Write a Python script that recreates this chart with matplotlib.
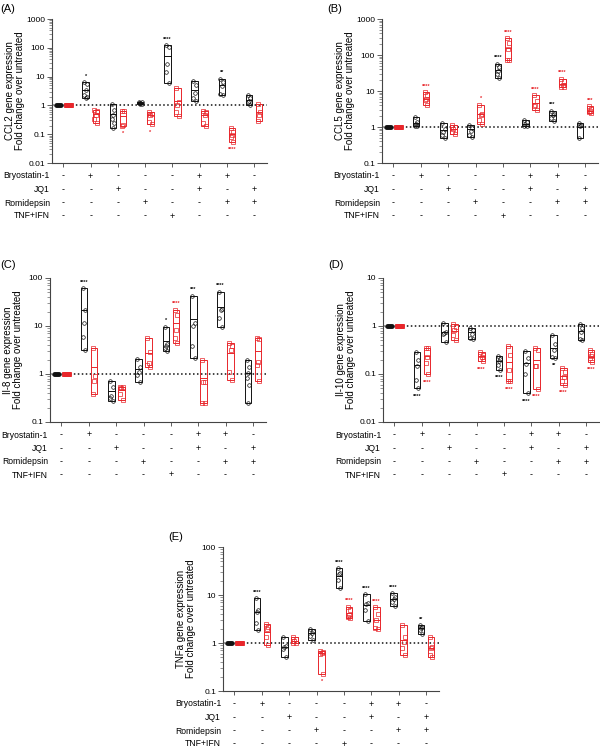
import matplotlib
matplotlib.use("Agg")
import matplotlib.pyplot as plt
from matplotlib.patches import Rectangle
from matplotlib.ticker import FixedLocator, FuncFormatter, LogLocator

plt.rcParams["font.family"] = ["Liberation Sans", "DejaVu Sans"]

W, H = 600, 747
BLACK = "#111111"
RED = "#e8262b"

# ── treatment table ───────────────────────────────────────────────────────────
ROWS = ["Bryostatin-1", "JQ1", "Romidepsin", "TNF+IFN"]
TABLE = [
    ["-", "+", "-", "-", "-", "+", "+", "-"],
    ["-", "-", "+", "-", "-", "+", "-", "+"],
    ["-", "-", "-", "+", "-", "-", "+", "+"],
    ["-", "-", "-", "-", "+", "-", "-", "-"],
]
UNTREATED = [1, 1, 1, 1, 1, 1]

# ── (A) CCL2 ──────────────────────────────────────────────────────────────────
CCL2_BLACK = [UNTREATED, [6.5, 5.5, 3.5, 2.3, 2.0, 1.8], [1.08, 0.69, 0.46, 0.33, 0.24, 0.17],
              [1.35, 1.3, 1.2, 1.2, 1.15, 1.1], [125, 105, 27, 15, 6], [7, 5.2, 2.8, 1.8, 1.4],
              [8.5, 6.6, 4.7, 2.4, 2.3], [2.3, 1.85, 1.4, 1.27, 1.0]]
CCL2_RED = [UNTREATED, [0.72, 0.62, 0.48, 0.33, 0.24], [0.65, 0.62, 0.21, 0.2],
            [0.57, 0.5, 0.46, 0.27, 0.22], [4.1, 1.3, 1.0, 0.6, 0.44], [0.64, 0.58, 0.45, 0.25, 0.19],
            [0.16, 0.12, 0.094, 0.08, 0.055], [1.08, 0.6, 0.46, 0.29]]
CCL2_BLACK_MEAN = [1, 3.3, 0.5, 1.2, 54, 3.4, 4.95, 1.53]
CCL2_RED_MEAN = [1, 0.51, 0.43, 0.46, 1.45, 0.47, 0.098, 0.57]
CCL2_BLACK_SIG = ["", "*", "", "", "****", "", "**", ""]
CCL2_RED_SIG = ["", "", "*", "*", "", "", "****", ""]

# ── (B) CCL5 ──────────────────────────────────────────────────────────────────
CCL5_BLACK = [UNTREATED, [1.9, 1.4, 1.25, 1.1, 1.05], [1.3, 0.9, 0.73, 0.61, 0.5],
              [1.16, 0.94, 0.76, 0.59, 0.52], [57, 46, 35, 30, 23], [1.56, 1.38, 1.24, 1.1, 1.06],
              [2.8, 2.35, 2.1, 1.8, 1.44], [1.3, 1.16, 1.07, 0.5]]
CCL5_RED = [UNTREATED, [9.4, 7.6, 6.1, 5.8, 4.2], [1.16, 1.0, 0.86, 0.73, 0.65],
            [4.2, 2.3, 2.1, 1.6, 1.2], [297, 220, 150, 74, 71], [7.6, 5.2, 4.2, 3.8, 2.9],
            [22, 18.5, 14.3, 13.1, 12.6], [3.8, 3.1, 2.7, 2.6, 2.5]]
CCL5_BLACK_MEAN = [1, 1.3, 0.81, 0.86, 37.5, 1.24, 2.1, 1.0]
CCL5_RED_MEAN = [1, 6.1, 0.9, 2.3, 156, 4.7, 16, 2.8]
CCL5_BLACK_SIG = ["", "", "", "", "****", "", "***", ""]
CCL5_RED_SIG = ["", "****", "", "*", "****", "****", "****", "***"]

# ── (C) Il-8 ──────────────────────────────────────────────────────────────────
IL8_BLACK = [UNTREATED, [61, 21.5, 11.3, 6, 3.2], [0.73, 0.54, 0.35, 0.31, 0.27],
             [2.1, 1.42, 1.12, 0.95, 0.69], [9.7, 4.2, 3.8, 3.4, 3.0], [43, 11.4, 10.0, 3.8, 2.2],
             [52, 23, 22, 14.4, 9.7], [2.0, 1.42, 1.03, 0.81, 0.59, 0.245]]
IL8_RED = [UNTREATED, [3.5, 0.93, 0.7, 0.38], [0.53, 0.53, 0.52, 0.38, 0.29],
           [5.5, 2.9, 1.67, 1.54, 1.42], [22, 17, 8.3, 5.5, 4.5], [2.0, 0.69, 0.69, 0.25, 0.25],
           [4.5, 3.8, 3.2, 1.1, 0.75], [5.7, 5.35, 1.8, 1.54, 0.72]]
IL8_BLACK_MEAN = [1, 21.5, 0.45, 1.29, 4.87, 13.8, 24.5, 1.03]
IL8_RED_MEAN = [1, 1.42, 0.46, 2.74, 11.4, 0.81, 2.7, 3.0]
IL8_BLACK_SIG = ["", "****", "", "", "*", "***", "****", ""]
IL8_RED_SIG = ["", "", "", "", "****", "", "", ""]

# ── (D) Il-10 ─────────────────────────────────────────────────────────────────
IL10_BLACK = [UNTREATED, [0.29, 0.2, 0.15, 0.076, 0.051], [1.17, 0.75, 0.73, 0.69, 0.46],
              [0.92, 0.81, 0.69, 0.56, 0.54], [0.233, 0.21, 0.184, 0.152, 0.123],
              [0.3, 0.22, 0.16, 0.098, 0.04], [0.64, 0.415, 0.31, 0.227, 0.22],
              [1.08, 0.92, 0.75, 0.54, 0.52]]
IL10_RED = [UNTREATED, [0.354, 0.354, 0.23, 0.17, 0.1], [1.08, 0.95, 0.81, 0.64, 0.5],
            [0.29, 0.245, 0.227, 0.21, 0.187], [0.377, 0.245, 0.123, 0.07, 0.07],
            [0.35, 0.32, 0.15, 0.145, 0.049], [0.136, 0.11, 0.087, 0.071, 0.06],
            [0.31, 0.257, 0.233, 0.22, 0.18]]
IL10_BLACK_MEAN = [1, 0.152, 0.75, 0.75, 0.19, 0.17, 0.354, 0.79]
IL10_RED_MEAN = [1, 0.233, 0.77, 0.233, 0.178, 0.2, 0.089, 0.226]
IL10_BLACK_SIG = ["", "****", "", "", "****", "****", "**", ""]
IL10_RED_SIG = ["", "****", "", "****", "****", "****", "****", "****"]

# ── (E) TNFa ──────────────────────────────────────────────────────────────────
TNFA_BLACK = [UNTREATED, [8.5, 4.9, 4.5, 2.57, 1.87], [1.35, 0.87, 0.81, 0.74, 0.5],
              [2.0, 1.8, 1.6, 1.4, 1.15], [36.5, 29, 27, 21, 14.2], [10.5, 6.7, 6.5, 4.9, 2.87],
              [10.8, 9.2, 8.1, 7.0, 5.9], [2.37, 2.12, 2.02, 1.87, 1.54]]
TNFA_RED = [UNTREATED, [2.5, 2.2, 1.93, 1.35, 0.91], [1.31, 1.19, 1.1, 1.02, 0.98],
            [0.69, 0.66, 0.63, 0.59, 0.23], [5.7, 4.9, 3.8, 3.5, 3.26], [5.5, 4.0, 3.0, 2.1, 1.99],
            [2.37, 1.35, 1.07, 0.77, 0.56], [1.31, 0.84, 0.77, 0.56, 0.52]]
TNFA_BLACK_MEAN = [1, 4.5, 0.84, 1.64, 24.9, 6.2, 8.25, 2.02]
TNFA_RED_MEAN = [1, 1.7, 1.1, 0.61, 4.15, 3.0, 1.15, 0.77]
TNFA_BLACK_SIG = ["", "****", "", "", "****", "****", "****", "**"]
TNFA_RED_SIG = ["", "", "", "*", "****", "****", "", ""]

JITTER = [-0.05, 0.05, 0.0, -0.05, 0.05, 0.0]
BOX_W = 0.24


def draw_series(ax, xc, groups, means, sigs, color, marker):
    for i, vals in enumerate(groups):
        x = i + xc
        lo, hi = min(vals), max(vals)
        if i == 0:
            # untreated: all points sit at 1, spread sideways
            n = len(vals)
            xs = [x - 0.08 + 0.16 * k / (n - 1) for k in range(n)]
            ax.plot(xs, vals, ls="none", marker=marker, ms=2.6, mfc=color,
                    mec=color, mew=0.6, zorder=4)
            continue
        ax.add_patch(Rectangle((x - BOX_W / 2, lo), BOX_W, hi - lo, fill=False,
                               ec=color, lw=0.7, zorder=3))
        ax.plot([x - BOX_W / 2, x + BOX_W / 2], [means[i]] * 2, color=color, lw=0.7, zorder=3)
        xs = [x + JITTER[k % len(JITTER)] for k in range(len(vals))]
        ax.plot(xs, vals, ls="none", marker=marker, ms=2.6, mfc="none",
                mec=color, mew=0.5, zorder=4)
        if sigs[i]:
            up = means[i] > 1
            ax.annotate(sigs[i], xy=(x, hi if up else lo),
                        xytext=(0, 6 if up else -8), textcoords="offset pixels",
                        ha="center", va="center", fontsize=4, color=color,
                        fontweight="bold", annotation_clip=False)


def panel(fig, box, ylim, ylabel, letter, letter_xy, black, red, bmean, rmean, bsig, rsig):
    left, right, top, bottom = box
    ax = fig.add_axes([left / W, 1 - bottom / H, (right - left) / W, (bottom - top) / H])
    ax.set_yscale("log")
    ax.set_ylim(*ylim)
    ax.set_xlim(-0.42, 7.48)

    ax.axhline(1, color=BLACK, ls=(0, (1, 1.6)), lw=1.1, zorder=2)
    draw_series(ax, -0.18, black, bmean, bsig, BLACK, "o")
    draw_series(ax, 0.19, red, rmean, rsig, RED, "s")

    for s in ("top", "right"):
        ax.spines[s].set_visible(False)
    for s in ("left", "bottom"):
        ax.spines[s].set_color("#444444")
        ax.spines[s].set_linewidth(0.8)

    ax.xaxis.set_major_locator(FixedLocator(range(8)))
    ax.set_xticklabels([])
    ax.tick_params(axis="x", length=3, width=0.6, color="#444444")
    ax.yaxis.set_major_locator(LogLocator(base=10, numticks=10))
    ax.yaxis.set_minor_locator(LogLocator(base=10, subs=range(2, 10), numticks=20))
    ax.yaxis.set_major_formatter(FuncFormatter(lambda v, p: f"{v:g}"))
    ax.tick_params(axis="y", which="major", length=3.5, width=0.6, labelsize=6,
                   pad=1.5, color="#444444")
    ax.tick_params(axis="y", which="minor", length=2, width=0.4, color="#444444")

    ax.set_ylabel(ylabel, fontsize=7, linespacing=0.95)
    ax.yaxis.set_label_coords(-27 / (right - left), 0.5)

    offsets = [13, 26.5, 40, 53]
    for r, name in enumerate(ROWS):
        ax.annotate(name, xy=(0, 0), xycoords="axes fraction", xytext=(-2, -offsets[r]),
                    textcoords="offset pixels", ha="right", va="center", fontsize=6.2,
                    annotation_clip=False)
        for g, mark in enumerate(TABLE[r]):
            ax.annotate(mark, xy=(g, 0), xycoords=("data", "axes fraction"),
                        xytext=(0, -offsets[r]), textcoords="offset pixels",
                        ha="center", va="center", fontsize=6.5, annotation_clip=False)

    fig.text(letter_xy[0] / W, 1 - letter_xy[1] / H, letter, fontsize=8,
             ha="left", va="center")
    return ax


fig = plt.figure(figsize=(W / 100, H / 100), dpi=100)

panel(fig, (52, 267, 19, 163), (0.01, 1000),
      "CCL2 gene expression\nFold change over untreated", "(A)", (0, 9),
      CCL2_BLACK, CCL2_RED, CCL2_BLACK_MEAN, CCL2_RED_MEAN, CCL2_BLACK_SIG, CCL2_RED_SIG)
panel(fig, (382, 598, 19, 163), (0.1, 1000),
      "CCL5 gene expression\nFold change over untreated", "(B)", (327, 9),
      CCL5_BLACK, CCL5_RED, CCL5_BLACK_MEAN, CCL5_RED_MEAN, CCL5_BLACK_SIG, CCL5_RED_SIG)
panel(fig, (50, 266, 278, 422), (0.1, 100),
      "Il-8 gene expression\nFold change over untreated", "(C)", (0, 265),
      IL8_BLACK, IL8_RED, IL8_BLACK_MEAN, IL8_RED_MEAN, IL8_BLACK_SIG, IL8_RED_SIG)
panel(fig, (383, 599, 278, 422), (0.01, 10),
      "Il-10 gene expression\nFold change over untreated", "(D)", (328, 265),
      IL10_BLACK, IL10_RED, IL10_BLACK_MEAN, IL10_RED_MEAN, IL10_BLACK_SIG, IL10_RED_SIG)
panel(fig, (223, 439, 547, 691), (0.1, 100),
      "TNFa gene expression\nFold change over untreated", "(E)", (168, 537),
      TNFA_BLACK, TNFA_RED, TNFA_BLACK_MEAN, TNFA_RED_MEAN, TNFA_BLACK_SIG, TNFA_RED_SIG)

fig.savefig("out.png", dpi=100)
